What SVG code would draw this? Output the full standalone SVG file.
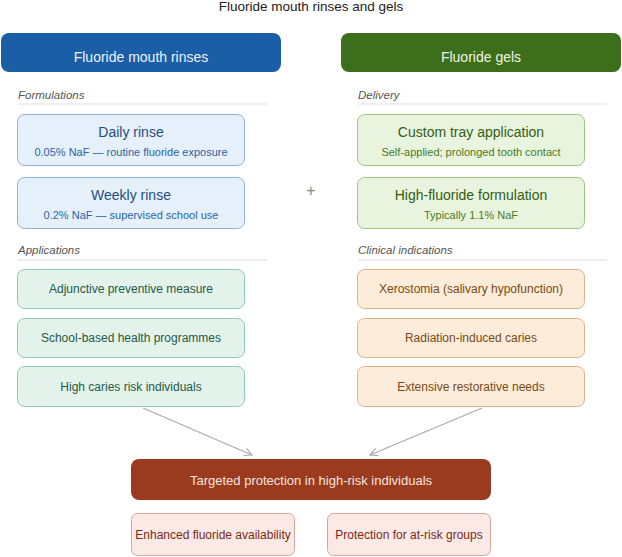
<svg xmlns="http://www.w3.org/2000/svg" width="622" height="557" viewBox="0 0 622 557">
<defs>
<style>
text{font-family:"Liberation Sans",Arial,sans-serif;text-anchor:middle}
.sec{font-style:italic;font-size:11.5px;fill:#555;text-anchor:start}
.rule{stroke:#ddd;stroke-width:1}
.b{fill:#e6f0fb;stroke:#8fb2dc}
.bt{fill:#1f4e82;font-size:14px}
.bs{fill:#2a63a8;font-size:11px}
.g{fill:#e9f4df;stroke:#9fc47f}
.gt{fill:#335e12;font-size:14px}
.gs{fill:#4a7a1e;font-size:11px}
.t{fill:#e3f3ec;stroke:#8fcbb0}
.tt{fill:#1e5b45;font-size:12px}
.o{fill:#fcecd9;stroke:#dcb48a}
.ot{fill:#7a4a16;font-size:12px}
.r{fill:#fae9e5;stroke:#d9a79a}
.rt{fill:#7a2a16;font-size:12px}
</style>
<marker id="ar" viewBox="0 0 10 10" refX="9" refY="5" markerWidth="8" markerHeight="8" orient="auto"><path d="M1,1 L9,5 L1,9" fill="none" stroke="#aaa" stroke-width="1.2"/></marker>
</defs>
<rect width="622" height="557" fill="#fff"/>
<text x="311" y="11" font-size="13.5" fill="#222">Fluoride mouth rinses and gels</text>
<g id="hdr-rinses"><rect x="1" y="33" width="280" height="39" rx="8" fill="#1a5ea6"/><text x="141" y="62" font-size="14" fill="#eaf1fa">Fluoride mouth rinses</text></g>
<g id="hdr-gels"><rect x="341" y="33" width="280" height="39" rx="8" fill="#3d6e1a"/><text x="481" y="62" font-size="14" fill="#eef5e6">Fluoride gels</text></g>
<text class="sec" x="18" y="99">Formulations</text><line class="rule" x1="18" y1="104" x2="267" y2="104"/>
<text class="sec" x="358" y="99">Delivery</text><line class="rule" x1="358" y1="104" x2="607" y2="104"/>
<text class="sec" x="18" y="254">Applications</text><line class="rule" x1="18" y1="260" x2="267" y2="260"/>
<text class="sec" x="358" y="254">Clinical indications</text><line class="rule" x1="358" y1="260" x2="607" y2="260"/>
<g id="daily"><rect class="b" x="17.5" y="114.5" width="227" height="51" rx="7"/><text class="bt" x="131" y="137">Daily rinse</text><text class="bs" x="131" y="156">0.05% NaF — routine fluoride exposure</text></g>
<g id="weekly"><rect class="b" x="17.5" y="177.5" width="227" height="51" rx="7"/><text class="bt" x="131" y="200">Weekly rinse</text><text class="bs" x="131" y="219">0.2% NaF — supervised school use</text></g>
<g id="tray"><rect class="g" x="357.5" y="114.5" width="227" height="51" rx="7"/><text class="gt" x="471" y="137">Custom tray application</text><text class="gs" x="471" y="156">Self-applied; prolonged tooth contact</text></g>
<g id="highf"><rect class="g" x="357.5" y="177.5" width="227" height="51" rx="7"/><text class="gt" x="471" y="200">High-fluoride formulation</text><text class="gs" x="471" y="219">Typically 1.1% NaF</text></g>
<text x="311" y="196" font-size="16" fill="#888">+</text>
<g id="adj"><rect class="t" x="17.5" y="269.5" width="227" height="39" rx="7"/><text class="tt" x="131" y="293">Adjunctive preventive measure</text></g>
<g id="school"><rect class="t" x="17.5" y="318.5" width="227" height="39" rx="7"/><text class="tt" x="131" y="342">School-based health programmes</text></g>
<g id="highrisk"><rect class="t" x="17.5" y="366.5" width="227" height="40" rx="7"/><text class="tt" x="131" y="391">High caries risk individuals</text></g>
<g id="xero"><rect class="o" x="357.5" y="269.5" width="227" height="39" rx="7"/><text class="ot" x="471" y="293">Xerostomia (salivary hypofunction)</text></g>
<g id="rad"><rect class="o" x="357.5" y="318.5" width="227" height="39" rx="7"/><text class="ot" x="471" y="342">Radiation-induced caries</text></g>
<g id="ext"><rect class="o" x="357.5" y="366.5" width="227" height="40" rx="7"/><text class="ot" x="471" y="391">Extensive restorative needs</text></g>
<g id="connectors" stroke="#aaa" stroke-width="1.2" fill="none">
<line x1="143" y1="408" x2="252" y2="455" marker-end="url(#ar)"/>
<line x1="482" y1="408" x2="370" y2="455" marker-end="url(#ar)"/>
</g>
<g id="target"><rect x="131" y="459" width="360" height="41" rx="8" fill="#9a3b1f"/><text x="311" y="485" font-size="13" fill="#f6e4de">Targeted protection in high-risk individuals</text></g>
<g id="enh"><rect class="r" x="131.5" y="513.5" width="163" height="42" rx="6"/><text class="rt" x="213" y="539">Enhanced fluoride availability</text></g>
<g id="prot"><rect class="r" x="327.5" y="513.5" width="163" height="42" rx="6"/><text class="rt" x="409" y="539">Protection for at-risk groups</text></g>
</svg>
